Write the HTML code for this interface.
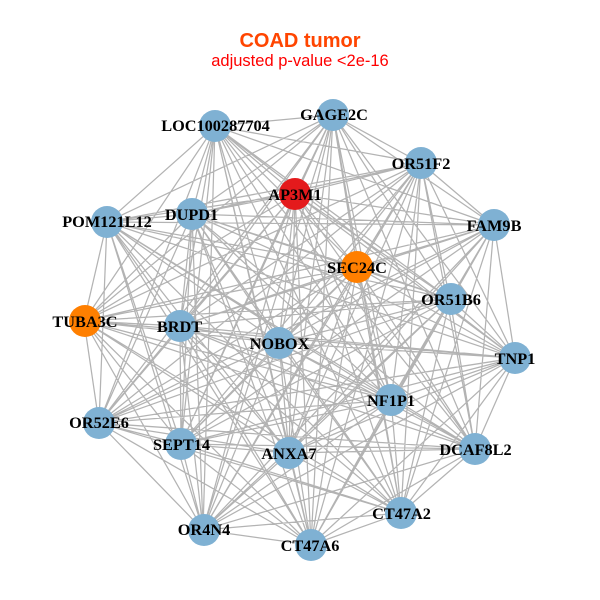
<!DOCTYPE html>
<html><head><meta charset="utf-8"><style>
html,body{margin:0;padding:0;background:#fff}
svg{display:block}
.n{font:bold 16.3px "Liberation Serif",serif;text-anchor:middle;fill:#000}
</style></head><body>
<svg width="600" height="600" viewBox="0 0 600 600" xmlns="http://www.w3.org/2000/svg">
<rect width="600" height="600" fill="#fff"/>
<text x="300" y="47" text-anchor="middle" style="font:bold 20px 'Liberation Sans',sans-serif" fill="#ff4500">COAD tumor</text>
<text x="300" y="66" text-anchor="middle" style="font:16.5px 'Liberation Sans',sans-serif" fill="#ff0000">adjusted p-value &lt;2e-16</text>
<path fill="none" stroke="#b3b3b3" stroke-width="1.25" d="
M333 115L215 126M333 115L421 163M333 115L295 194M333 115L192 214M333 115L107 222M333 115L494 225M333 115L357 267M333 115L450 299M333 115L84 321M333 115L180 326M333 115L279 343M333 115L515 358M333 115L391 400M333 115L99 423M333 115L181 444M333 115L289 453M333 115L475 449M333 115L401 513M333 115L203 530M333 115L311 545
M215 126L421 163M215 126L295 194M215 126L192 214M215 126L107 222M215 126L494 225M215 126L357 267M215 126L450 299M215 126L84 321M215 126L180 326M215 126L279 343M215 126L515 358M215 126L391 400M215 126L99 423M215 126L181 444M215 126L289 453M215 126L475 449M215 126L401 513M215 126L203 530M215 126L311 545
M421 163L295 194M421 163L192 214M421 163L107 222M421 163L494 225M421 163L357 267M421 163L450 299M421 163L84 321M421 163L180 326M421 163L279 343M421 163L515 358M421 163L391 400M421 163L99 423M421 163L181 444M421 163L289 453M421 163L475 449M421 163L401 513M421 163L203 530M421 163L311 545
M295 194L192 214M295 194L107 222M295 194L494 225M295 194L357 267M295 194L450 299M295 194L84 321M295 194L180 326M295 194L279 343M295 194L515 358M295 194L391 400M295 194L99 423M295 194L181 444M295 194L289 453M295 194L475 449M295 194L401 513M295 194L203 530M295 194L311 545
M192 214L107 222M192 214L494 225M192 214L357 267M192 214L450 299M192 214L84 321M192 214L180 326M192 214L279 343M192 214L515 358M192 214L391 400M192 214L99 423M192 214L181 444M192 214L289 453M192 214L475 449M192 214L401 513M192 214L203 530M192 214L311 545
M107 222L494 225M107 222L357 267M107 222L450 299M107 222L84 321M107 222L180 326M107 222L279 343M107 222L515 358M107 222L391 400M107 222L99 423M107 222L181 444M107 222L289 453M107 222L475 449M107 222L401 513M107 222L203 530M107 222L311 545
M494 225L357 267M494 225L450 299M494 225L84 321M494 225L180 326M494 225L279 343M494 225L515 358M494 225L391 400M494 225L99 423M494 225L181 444M494 225L289 453M494 225L475 449M494 225L401 513M494 225L203 530M494 225L311 545
M357 267L450 299M357 267L84 321M357 267L180 326M357 267L279 343M357 267L515 358M357 267L391 400M357 267L99 423M357 267L181 444M357 267L289 453M357 267L475 449M357 267L401 513M357 267L203 530M357 267L311 545
M450 299L84 321M450 299L180 326M450 299L279 343M450 299L515 358M450 299L391 400M450 299L99 423M450 299L181 444M450 299L289 453M450 299L475 449M450 299L401 513M450 299L203 530M450 299L311 545
M84 321L180 326M84 321L279 343M84 321L515 358M84 321L391 400M84 321L99 423M84 321L181 444M84 321L289 453M84 321L475 449M84 321L401 513M84 321L203 530M84 321L311 545
M180 326L279 343M180 326L515 358M180 326L391 400M180 326L99 423M180 326L181 444M180 326L289 453M180 326L475 449M180 326L401 513M180 326L203 530M180 326L311 545
M279 343L515 358M279 343L391 400M279 343L99 423M279 343L181 444M279 343L289 453M279 343L475 449M279 343L401 513M279 343L203 530M279 343L311 545
M515 358L391 400M515 358L99 423M515 358L181 444M515 358L289 453M515 358L475 449M515 358L401 513M515 358L203 530M515 358L311 545
M391 400L99 423M391 400L181 444M391 400L289 453M391 400L475 449M391 400L401 513M391 400L203 530M391 400L311 545
M99 423L181 444M99 423L289 453M99 423L475 449M99 423L401 513M99 423L203 530M99 423L311 545
M181 444L289 453M181 444L475 449M181 444L401 513M181 444L203 530M181 444L311 545
M289 453L475 449M289 453L401 513M289 453L203 530M289 453L311 545
M475 449L401 513M475 449L203 530M475 449L311 545
M401 513L203 530M401 513L311 545
M203 530L311 545
"/>
<g fill="#7fb1d3">
<circle cx="333" cy="115" r="16"/><circle cx="215" cy="126" r="16"/><circle cx="421" cy="163" r="16"/>
<circle cx="192" cy="214" r="16"/><circle cx="107" cy="222" r="16"/><circle cx="494" cy="225" r="16"/>
<circle cx="451" cy="299" r="16"/><circle cx="180" cy="326" r="16"/><circle cx="279" cy="343" r="16"/>
<circle cx="515" cy="358" r="16"/><circle cx="391" cy="400" r="16"/><circle cx="99" cy="423" r="16"/>
<circle cx="181" cy="444" r="16"/><circle cx="289" cy="453" r="16"/><circle cx="475" cy="449" r="16"/>
<circle cx="401" cy="513" r="16"/><circle cx="204" cy="530" r="16"/><circle cx="311" cy="545" r="16"/>
</g>
<circle cx="295" cy="194" r="16" fill="#e41a1c"/>
<circle cx="357" cy="267" r="16" fill="#ff7f00"/>
<circle cx="85" cy="321" r="16" fill="#ff7f00"/>
<g class="labels">
<text class="n" x="334" y="120">GAGE2C</text>
<text class="n" x="215.500" y="131">LOC100287704</text>
<text class="n" x="421" y="169">OR51F2</text>
<text class="n" x="295" y="200">AP3M1</text>
<text class="n" x="191.500" y="220">DUPD1</text>
<text class="n" x="107" y="227">POM121L12</text>
<text class="n" x="494" y="231">FAM9B</text>
<text class="n" x="357" y="273">SEC24C</text>
<text class="n" x="451" y="305">OR51B6</text>
<text class="n" x="85" y="327">TUBA3C</text>
<text class="n" x="179.500" y="332">BRDT</text>
<text class="n" x="279.500" y="349">NOBOX</text>
<text class="n" x="515" y="364">TNP1</text>
<text class="n" x="391" y="406">NF1P1</text>
<text class="n" x="99" y="428">OR52E6</text>
<text class="n" x="181.500" y="450">SEPT14</text>
<text class="n" x="289" y="459">ANXA7</text>
<text class="n" x="475.500" y="455">DCAF8L2</text>
<text class="n" x="401.500" y="519">CT47A2</text>
<text class="n" x="204" y="535">OR4N4</text>
<text class="n" x="310" y="551">CT47A6</text>
</g>
</svg>
</body></html>
